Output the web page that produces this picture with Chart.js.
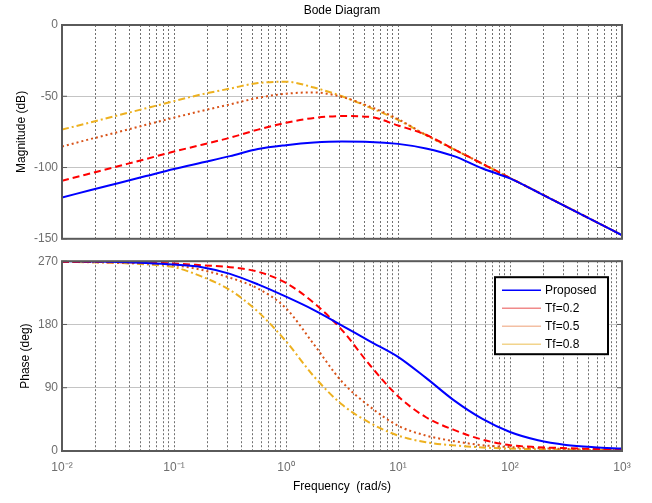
<!DOCTYPE html>
<html>
<head>
<meta charset="utf-8">
<script src="https://cdn.jsdelivr.net/npm/chart.js@4/dist/chart.umd.min.js"></script>
<style>
html,body{margin:0;padding:0;background:#fff;}
#wrap{position:relative;width:652px;height:503px;overflow:hidden;}
#topChart{position:absolute;left:0;top:0;}
#botChart{position:absolute;left:0;top:250px;}
</style>
</head>
<body>
<div id="wrap">
<canvas id="topChart" width="652" height="250"></canvas>
<canvas id="botChart" width="652" height="253"></canvas>
</div>
<script>
// ---------- DATA ----------
const logFreq = [-2, -1.75, -1.5, -1.25, -1, -0.75, -0.5, -0.25, 0, 0.25, 0.5, 0.75, 1, 1.25, 1.5, 1.75, 2, 2.25, 2.5, 2.75, 3];

const seriesNames = ['Proposed', 'Tf=0.2', 'Tf=0.5', 'Tf=0.8'];

const magProposed = [-121, -116, -111, -106, -101, -96.5, -92, -87, -84.3, -82.5, -81.8, -82, -83.4, -86.6, -92, -100.5, -107.6, -117.4, -127.4, -137.4, -147.5];
const magTf02     = [-109.3, -104.2, -99.1, -94, -88.8, -84, -79.1, -73.4, -68.6, -65.2, -63.9, -64.5, -70.5, -77, -87.2, -97.2, -107.3, -117.3, -127.4, -137.4, -147.5];
const magTf05     = [-85.2, -80.1, -75.1, -70, -65, -60.2, -55.7, -51.1, -48.2, -47.3, -50.5, -57.3, -66, -77.2, -87.2, -97.2, -107.3, -117.3, -127.4, -137.4, -147.5];
const magTf08     = [-73.4, -68.4, -63.4, -58.4, -53.4, -48.6, -44.6, -40.7, -39.8, -43.9, -50, -58, -66.5, -77.2, -87.2, -97.2, -107.3, -117.3, -127.4, -137.4, -147.5];

const phProposed = [270, 269.5, 268.8, 267.5, 265.2, 261.5, 252, 237, 219.5, 200.5, 178.5, 156, 134, 104, 72, 46, 27, 15.3, 8.7, 5.4, 3.5];
const phTf02     = [269, 268.8, 268.5, 268, 266.8, 264.3, 261.5, 255, 239, 210.5, 172, 122, 78, 48, 30, 16.3, 8.3, 5.5, 4, 3, 2];
const phTf05     = [269, 268.7, 268.3, 267, 264.3, 257.5, 246.5, 231, 203, 151.4, 98.5, 63, 36, 22, 14, 8.3, 5.5, 4, 3, 2, 1.5];
const phTf08     = [269, 268.5, 267.5, 265.5, 261.5, 248, 229, 198, 156, 106, 66, 40, 22, 12.5, 8, 5, 3.5, 2.5, 2, 1.5, 1];

const decadeExps  = [-2, -1, 0, 1, 2, 3];
const xTickLabels = ['10\u207B\u00B2', '10\u207B\u00B9', '10\u2070', '10\u00B9', '10\u00B2', '10\u00B3'];
const magTicks    = [-150, -100, -50, 0];
const phaseTicks  = [0, 90, 180, 270];

// ---------- STYLES ----------
const FONT = 'Arial, "Liberation Sans", Helvetica, sans-serif';
Chart.defaults.font.family = FONT;
Chart.defaults.font.size = 12;
const lineStyles = [
  {color: '#0000ff', dash: [], width: 2},
  {color: '#ff0000', dash: [7, 4], width: 2},
  {color: '#d95319', dash: [2, 3], width: 2},
  {color: '#edb120', dash: [7, 3, 2, 3], width: 2}
];
const legendColors = ['#0000ff', '#f08a8a', '#f3bfa3', '#f2d48c'];
const TICK_COLOR = '#6e6e6e';
const FRAME_COLOR = '#5a5a5a';

// grid values on log axis: 1..9 x each decade
const gridValues = [];
for (let i = 0; i < decadeExps.length - 1; i++) {
  for (let m = 1; m <= 9; m++) gridValues.push(m * Math.pow(10, decadeExps[i]));
}
gridValues.push(Math.pow(10, decadeExps[decadeExps.length - 1]));

function toPoints(vals) {
  return logFreq.map((e, i) => ({x: Math.pow(10, e), y: vals[i]}));
}
function makeDatasets(seriesList) {
  return seriesList.map((vals, i) => ({
    label: seriesNames[i],
    data: toPoints(vals),
    borderColor: lineStyles[i].color,
    borderDash: lineStyles[i].dash,
    borderWidth: lineStyles[i].width,
    pointRadius: 0,
    fill: false,
    cubicInterpolationMode: 'monotone'
  }));
}

// ---------- PLUGINS ----------
const framePlugin = {
  id: 'frame',
  afterDraw(chart) {
    const {ctx, chartArea: a} = chart;
    const ys = chart.scales.y;
    ctx.save();
    ctx.strokeStyle = FRAME_COLOR;
    ctx.lineWidth = 1;
    ctx.setLineDash([]);
    ys.ticks.forEach(t => {
      const py = ys.getPixelForValue(t.value);
      ctx.beginPath();
      ctx.moveTo(a.left, py); ctx.lineTo(a.left + 5, py);
      ctx.moveTo(a.right, py); ctx.lineTo(a.right - 5, py);
      ctx.stroke();
    });
    ctx.lineWidth = 2;
    ctx.strokeRect(a.left, a.top, a.right - a.left, a.bottom - a.top);
    ctx.restore();
  }
};
const titlePlugin = {
  id: 'bodeTitle',
  afterDraw(chart) {
    const {ctx, chartArea: a} = chart;
    ctx.save();
    ctx.font = '12px ' + FONT;
    ctx.fillStyle = '#000';
    ctx.textAlign = 'center';
    ctx.textBaseline = 'middle';
    ctx.fillText('Bode Diagram', (a.left + a.right) / 2, 11);
    ctx.restore();
  }
};
const legendPlugin = {
  id: 'boxLegend',
  afterDraw(chart) {
    const {ctx, chartArea: a} = chart;
    const w = 113, h = 77;
    const x0 = a.right - 14 - w, y0 = a.top + 16;
    ctx.save();
    ctx.fillStyle = '#fff';
    ctx.fillRect(x0, y0, w, h);
    ctx.lineWidth = 2;
    ctx.strokeStyle = '#000';
    ctx.setLineDash([]);
    ctx.strokeRect(x0, y0, w, h);
    ctx.font = '12px ' + FONT;
    ctx.textBaseline = 'middle';
    ctx.textAlign = 'left';
    chart.data.datasets.forEach((ds, i) => {
      const y = y0 + 13 + i * 18;
      ctx.strokeStyle = legendColors[i];
      ctx.lineWidth = 1.5;
      ctx.beginPath();
      ctx.moveTo(x0 + 7, y); ctx.lineTo(x0 + 46, y);
      ctx.stroke();
      ctx.fillStyle = '#000';
      ctx.fillText(ds.label, x0 + 50, y);
    });
    ctx.restore();
  }
};

function xScale(showLabels, titleText) {
  return {
    type: 'logarithmic',
    min: Math.pow(10, decadeExps[0]),
    max: Math.pow(10, decadeExps[decadeExps.length - 1]),
    afterBuildTicks: s => { s.ticks = gridValues.map(v => ({value: v})); },
    afterFit: s => { s.height = showLabels ? 52 : 0; },
    grid: {color: '#707070', lineWidth: 1, drawTicks: false},
    border: {display: false, dash: [2, 2]},
    ticks: {
      display: showLabels,
      autoSkip: false,
      maxRotation: 0,
      padding: 9,
      color: TICK_COLOR,
      font: {size: 12},
      callback: (value) => {
        const lg = Math.log10(value);
        const e = Math.round(lg);
        if (Math.abs(lg - e) < 1e-6) {
          const k = decadeExps.indexOf(e);
          return k >= 0 ? xTickLabels[k] : '';
        }
        return '';
      }
    },
    title: {
      display: !!titleText,
      text: titleText || '',
      color: '#000',
      font: {size: 12},
      padding: {top: 0, bottom: 9}
    }
  };
}
function yScale(min, max, tickList, titleText, titlePad) {
  return {
    type: 'linear',
    min: min,
    max: max,
    afterBuildTicks: s => { s.ticks = tickList.map(v => ({value: v})); },
    afterFit: s => { s.width = 62; },
    grid: {color: '#c4c4c4', lineWidth: 1, drawTicks: false},
    border: {display: false},
    ticks: {
      padding: 4,
      color: TICK_COLOR,
      font: {size: 12},
      callback: v => String(v)
    },
    title: {
      display: true,
      text: titleText,
      color: '#000',
      font: {size: 12},
      padding: {top: titlePad, bottom: 0}
    }
  };
}

const commonOpts = {
  responsive: false,
  animation: false,
  devicePixelRatio: 1,
  plugins: {legend: {display: false}, tooltip: {enabled: false}, title: {display: false}},
  elements: {line: {tension: 0}}
};

new Chart(document.getElementById('topChart'), {
  type: 'line',
  data: {datasets: makeDatasets([magProposed, magTf02, magTf05, magTf08])},
  options: Object.assign({}, commonOpts, {
    layout: {padding: {left: 0, right: 30, top: 25, bottom: 5}},
    scales: {
      x: xScale(false, null),
      y: yScale(magTicks[0], magTicks[magTicks.length - 1], magTicks, 'Magnitude (dB)', 14)
    }
  }),
  plugins: [framePlugin, titlePlugin]
});

new Chart(document.getElementById('botChart'), {
  type: 'line',
  data: {datasets: makeDatasets([phProposed, phTf02, phTf05, phTf08])},
  options: Object.assign({}, commonOpts, {
    layout: {padding: {left: 0, right: 30, top: 9, bottom: 0}},
    scales: {
      x: xScale(true, 'Frequency  (rad/s)'),
      y: yScale(phaseTicks[0], phaseTicks[phaseTicks.length - 1], phaseTicks, 'Phase (deg)', 18)
    }
  }),
  plugins: [framePlugin, legendPlugin]
});
</script>
</body>
</html>
